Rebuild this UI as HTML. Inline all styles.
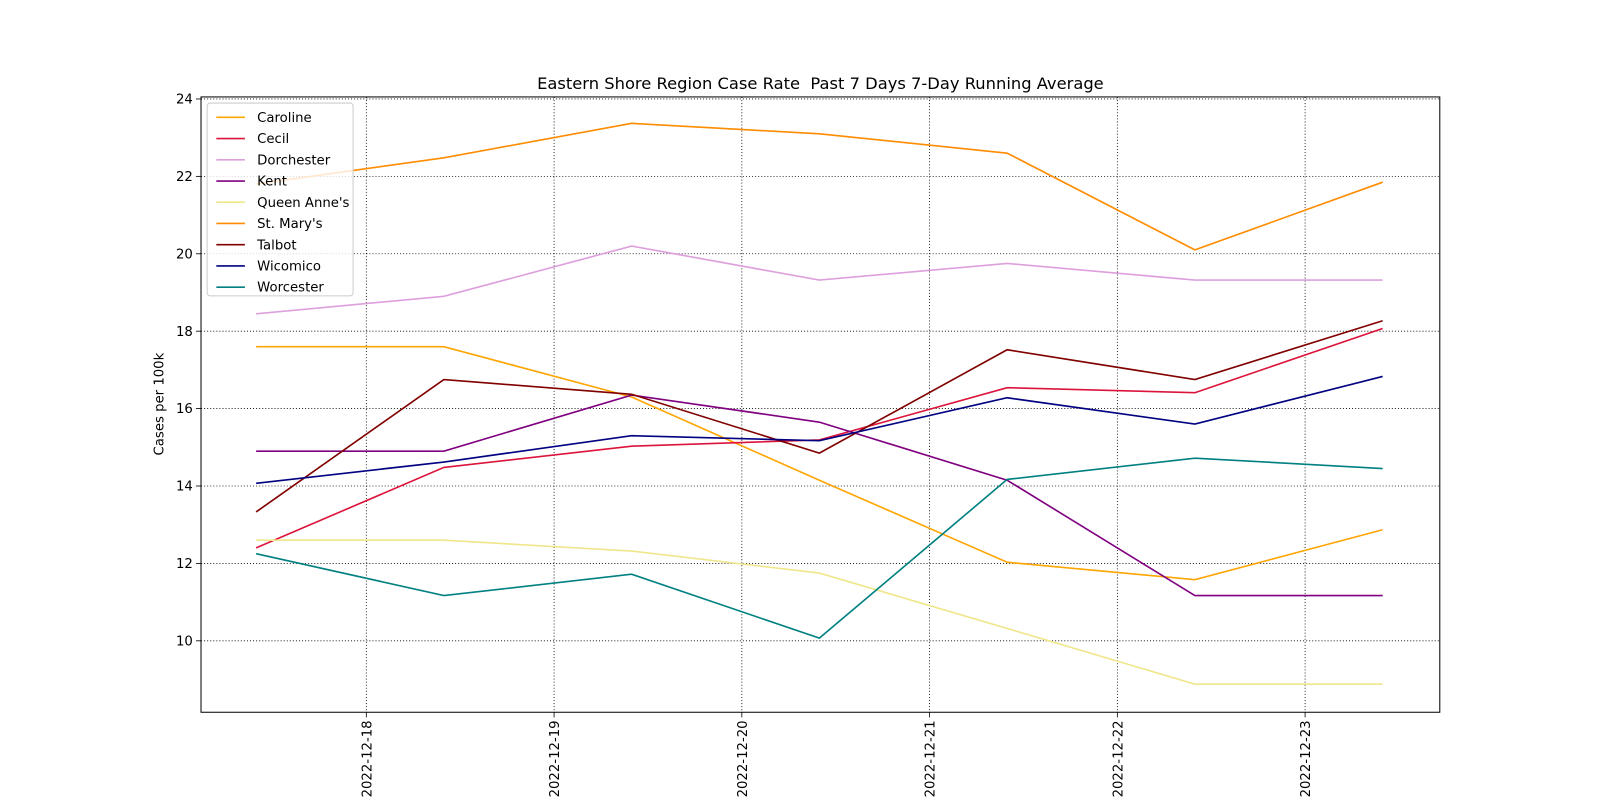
<!DOCTYPE html>
<html><head><meta charset="utf-8"><style>html,body{margin:0;padding:0;background:#fff;width:1600px;height:800px;overflow:hidden}svg{display:block;overflow:hidden;font-family:"DejaVu Sans","Liberation Sans",sans-serif}</style></head>
<body>
<svg id="chart" width="1600" height="800" viewBox="0 0 1568 784" xmlns="http://www.w3.org/2000/svg"></svg>
<script>
const dates = ['2022-12-18','2022-12-19','2022-12-20','2022-12-21','2022-12-22','2022-12-23'];
const pointDays = [-0.587,0.413,1.413,2.413,3.413,4.413,5.413];
const yTicks = [10,12,14,16,18,20,22,24];
const names = ['Caroline','Cecil','Dorchester','Kent',"Queen Anne's","St. Mary's",'Talbot','Wicomico','Worcester'];
const colors = ['#FFA500','#DC143C','#DDA0DD','#800080','#F0E68C','#FF8C00','#800000','#000080','#008080'];
const caroline = [17.6,17.6,16.3,14.15,12.03,11.58,12.87];
const cecil = [12.4,14.48,15.03,15.19,16.54,16.41,18.07];
const dorchester = [18.45,18.9,20.2,19.32,19.75,19.32,19.32];
const kent = [14.9,14.9,16.35,15.65,14.15,11.17,11.17];
const queenAnnes = [12.6,12.6,12.32,11.75,10.32,8.88,8.88];
const stMarys = [21.8,22.48,23.37,23.1,22.6,20.1,21.85];
const talbot = [13.33,16.75,16.37,14.85,17.52,16.75,18.27];
const wicomico = [14.07,14.62,15.3,15.17,16.28,15.6,16.83];
const worcester = [12.25,11.17,11.72,10.07,14.17,14.72,14.45];
const series = [caroline,cecil,dorchester,kent,queenAnnes,stMarys,talbot,wicomico,worcester];

const svg = document.getElementById('chart');
const NS = 'http://www.w3.org/2000/svg';
const L=197,R=1411,T=95,B=698;
const x = d => 359 + d*184;
const y = v => 628 - (v-10)*37.93;
function el(tag, attrs, parent){const e=document.createElementNS(NS,tag);for(const k in attrs)e.setAttribute(k,attrs[k]);(parent||svg).appendChild(e);return e;}

const grid = el('g',{});


dates.forEach((d,i)=>{
  const gx=x(i);
  el('line',{x1:gx,x2:gx,y1:T,y2:B,stroke:'#000','stroke-width':0.8,'stroke-dasharray':'1,2'},grid);
  el('line',{x1:gx,x2:gx,y1:B,y2:B+5,stroke:'#000','stroke-width':0.8},grid);
  const t=el('text',{x:0,y:0,'font-size':13,'text-anchor':'end',transform:`translate(${gx+5},${B+8}) rotate(-90)`});
  t.textContent=d;
  
  
});
yTicks.forEach(v=>{
  const gy=y(v);
  el('line',{x1:L,x2:R,y1:gy,y2:gy,stroke:'#000','stroke-width':0.8,'stroke-dasharray':'1,2'},grid);
  el('line',{x1:L-5,x2:L,y1:gy,y2:gy,stroke:'#000','stroke-width':0.8},grid);
  const t=el('text',{x:L-8,y:gy+4.5,'font-size':13,'text-anchor':'end'});
  t.textContent=v;
  
  
});

series.forEach((s,i)=>{
  const p=el('polyline',{points:s.map((v,j)=>x(pointDays[j])+','+y(v)).join(' '),fill:'none',stroke:colors[i],'stroke-width':1.6});
  
  
});

const frame=el('rect',{x:L,y:T,width:R-L,height:B-T,fill:'none',stroke:'#000','stroke-width':1});



const title=el('text',{x:804,y:87,'font-size':16,'text-anchor':'middle'});
title.textContent='Eastern Shore Region Case Rate  Past 7 Days 7-Day Running Average';


title.style.whiteSpace='pre';

const yl=el('text',{x:0,y:0,'font-size':13,'text-anchor':'middle',transform:'translate(160,396) rotate(-90)'});
yl.textContent='Cases per 100k';



const lg=el('g',{});


el('rect',{x:203,y:101,width:143,height:189,rx:3,fill:'#fff','fill-opacity':0.8,stroke:'#ccc','stroke-width':1},lg);
names.forEach((n,i)=>{
  const ly=115+i*20.8;
  const g=el('g',{},lg);
  
  
  el('line',{x1:212,x2:240,y1:ly,y2:ly,stroke:colors[i],'stroke-width':1.6},g);
  const t=el('text',{x:252,y:ly+4.5,'font-size':13},g);
  t.textContent=n;
});
</script>
</body></html>
